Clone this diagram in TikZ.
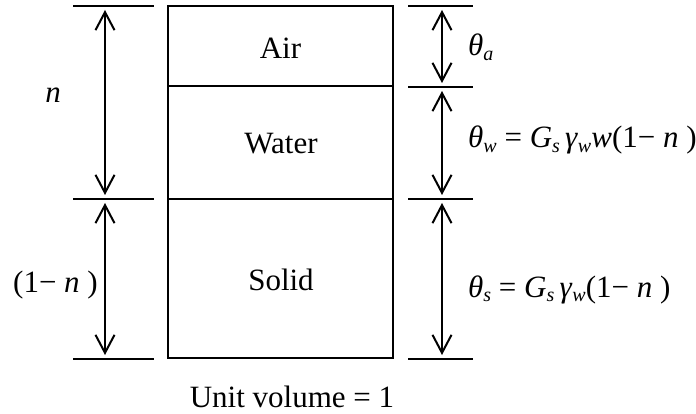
\documentclass[tikz,border=0pt]{standalone}
\usepackage{fontspec}
\setmainfont{Liberation Serif}
\usetikzlibrary{arrows.meta}
\newcommand{\lowsub}[1]{\raisebox{-4.5pt}{\fontsize{20}{20}\selectfont\itshape #1}}
\tikzset{
  layer/.style={draw, line width=2pt, minimum width=225pt, inner sep=0pt},
  barb/.tip={Straight Barb[length=18pt,width=19pt,line width=2pt]},
  dimline/.style={line width=2pt, barb-barb, shorten <=4pt, shorten >=4pt},
  tick/.style={line width=2pt},
  lbl/.style={inner sep=0pt, anchor=base},
  lblw/.style={inner sep=0pt, anchor=base west}
}
\begin{document}
\begin{tikzpicture}[x=1pt,y=-1pt,font=\fontsize{31}{36}\selectfont]
\useasboundingbox (0,0) rectangle (696,414);
% layers
\node[layer, minimum height=80pt] (air) at (280.5,46) {};
\node[layer, minimum height=113pt] (water) at (280.5,142.5) {};
\node[layer, minimum height=159pt] (solid) at (280.5,278.5) {};
\node[lbl] (airt) at (280.5,59) {Air};
\node[lbl] (watert) at (281,154) {Water};
\node[lbl] (solidt) at (281,290) {Solid};
% left dimension coordinates
\coordinate (L1) at (105,6);
\coordinate (L2) at (105,199);
\coordinate (L3) at (105,359);
% right dimension coordinates
\coordinate (R1) at (442,6);
\coordinate (R2) at (442,87);
\coordinate (R3) at (442,199);
\coordinate (R4) at (442,359);
% ticks
\draw[tick] (73,6) -- (154,6);
\draw[tick] (73,199) -- (154,199);
\draw[tick] (73,359) -- (154,359);
\draw[tick] (408,6) -- (473,6);
\draw[tick] (408,87) -- (473,87);
\draw[tick] (408,199) -- (473,199);
\draw[tick] (408,359) -- (473,359);
% arrows
\draw[dimline] (L1) -- (L2);
\draw[dimline] (L2) -- (L3);
\draw[dimline] (R1) -- (R2);
\draw[dimline] (R2) -- (R3);
\draw[dimline] (R3) -- (R4);
% labels
\node[lbl] (ln) at (53,103) {\itshape n};
\node[lbl] (l1n) at (55.5,292) {(1−\ \textit{n} )};
\node[lblw] (ta) at (468,56) {\textit{θ}\lowsub{a}};
\node[lblw] (tw) at (468,148) {\textit{θ}\lowsub{w} = \textit{G}\lowsub{s}\,\textit{γ}\lowsub{w}\textit{w}(1−\ \textit{n} )};
\node[lblw] (ts) at (468,297) {\textit{θ}\lowsub{s} = \textit{G}\lowsub{s}\,\textit{γ}\lowsub{w}(1−\ \textit{n} )};
\node[lbl] (unit) at (292,407) {Unit volume = 1};
\end{tikzpicture}
\end{document}
